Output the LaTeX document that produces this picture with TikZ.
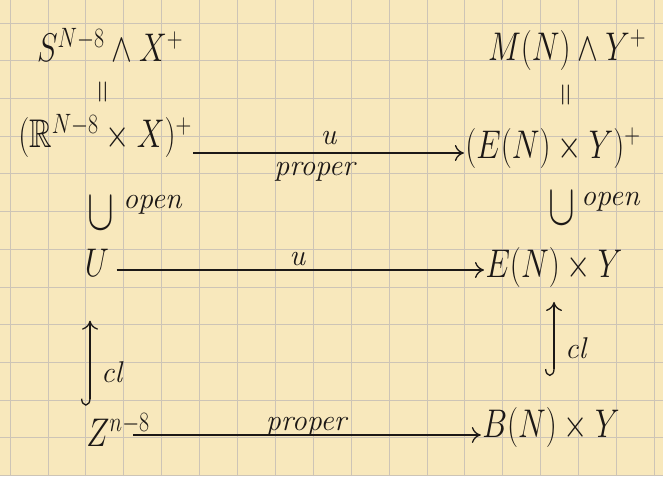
\RequirePackage{fix-cm}
\documentclass[tikz,border=0pt]{standalone}
\usepackage{amsmath,amssymb}
\usepackage{tikz}
\usetikzlibrary{arrows.meta}

\begin{document}
\begin{tikzpicture}[x=1pt,y=1pt,
  obj/.style={inner sep=2pt, outer sep=0pt, xscale=0.78, font=\fontsize{40}{48}\selectfont},
  lbl/.style={inner sep=1pt, outer sep=0pt, font=\fontsize{30}{34}\selectfont\itshape},
  eqv/.style={inner sep=0pt, rotate=90, font=\fontsize{32}{36}\selectfont},
  sub/.style={inner sep=0pt, yscale=1.45, font=\fontsize{40}{48}\selectfont},
  map/.style={draw=inkColor, line width=1.3pt, -{To[length=9pt,width=16pt]}},
  incl/.style={draw=inkColor, line width=1.3pt, {Hooks[right,length=7pt,width=18pt]}-{To[length=9pt,width=16pt]}}]
\definecolor{paperColor}{RGB}{248,232,188}
\definecolor{gridColor}{RGB}{205,196,182}
\definecolor{inkColor}{RGB}{28,24,22}
\path[use as bounding box,fill=paperColor] (0,0) rectangle (663,476);

\foreach \i in {0,...,17}
  \path[draw=gridColor,line width=0.7pt] ({10+37.9*\i},0) -- ({10+37.9*\i},476);
\foreach \j in {0,...,12}
  \path[draw=gridColor,line width=0.7pt] (0,{453-37.7*\j}) -- (663,{453-37.7*\j});

\begin{scope}[text=inkColor]
\node[obj] (sx) at (110,431) {$S^{N-8}\wedge X^{+}$};
\node[eqv] (eqa) at (105,384) {$=$};
\node[obj] (rx) at (105,340) {$(\mathbb{R}^{N-8}\times X)^{+}$};

\node[obj] (my) at (567,426) {$M(N)\wedge Y^{+}$};
\node[eqv] (eqb) at (568,381) {$=$};
\node[obj] (ey) at (553,328) {$(E(N)\times Y)^{+}$};

\node[sub] (opa) at (101,263) {$\cup$};
\node[lbl, anchor=west] (opatxt) at (122,271) {open};
\node[sub] (opb) at (562,268) {$\cup$};
\node[lbl, anchor=west] (opbtxt) at (580,274) {open};

\node[obj] (u) at (97,213) {$U$};
\node[obj] (eyb) at (554,208) {$E(N)\times Y$};

\node[obj] (z) at (118,46) {$Z^{n-8}$};
\node[obj] (by) at (551,48) {$B(N)\times Y$};
\end{scope}

\draw[map] ([yshift=-17pt]rx.east) -- ([yshift=-17pt]rx.east -| ey.west)
  node[lbl, midway, above=7pt, text=inkColor] (ua) {u}
  node[lbl, midway, below=8pt, xshift=-14pt, text=inkColor] (pra) {proper};
\draw[map, shorten <=6pt] ([yshift=-7pt]u.east) -- ([yshift=-7pt]u.east -| eyb.west)
  node[lbl, midway, above=3pt, text=inkColor] (ub) {u};
\draw[map, shorten <=-18pt] ([yshift=-5pt]z.east) -- ([yshift=-5pt]z.east -| by.west)
  node[lbl, midway, above=-2pt, xshift=-10pt, text=inkColor] (prb) {proper};

\draw[incl, shorten <=6pt, shorten >=42pt] ([xshift=-7pt]u.south |- z.north) -- ([xshift=-7pt]u.south)
  node[lbl, pos=0.3, right=10pt, text=inkColor] (cla) {cl};
\draw[incl, shorten <=30pt, shorten >=12pt] (eyb.south |- by.north) -- (eyb.south)
  node[lbl, pos=0.5, right=10pt, text=inkColor] (clb) {cl};
\end{tikzpicture}
\end{document}
